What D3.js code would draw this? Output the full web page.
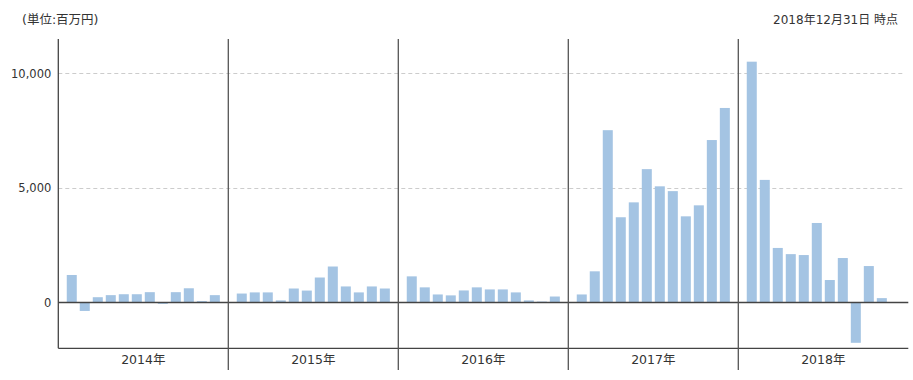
<!DOCTYPE html>
<html>
<head>
<meta charset="utf-8">
<script src="https://cdn.jsdelivr.net/npm/d3@7"></script>
<style>
  html, body { margin: 0; padding: 0; background: #fff; }
  svg text { font-family: "DejaVu Sans", "Noto Sans CJK JP", sans-serif; fill: #333; }
</style>
</head>
<body>
<svg id="chart" width="913" height="380"></svg>
<script>
const years = ["2014年", "2015年", "2016年", "2017年", "2018年"];
const months = ["1", "2", "3", "4", "5", "6", "7", "8", "9", "10", "11", "12"];
const values2014 = [1200, -370, 230, 320, 360, 360, 450, -60, 450, 620, 60, 320];
const values2015 = [390, 440, 440, 90, 610, 520, 1090, 1570, 700, 440, 700, 610];
const values2016 = [1140, 660, 350, 310, 525, 660, 570, 570, 440, 90, 40, 260];
const values2017 = [350, 1360, 7520, 3720, 4370, 5820, 5070, 4860, 3760, 4240, 7090, 8490];
const values2018 = [10510, 5350, 2380, 2110, 2070, 3470, 980, 1940, -1760, 1590, 190, null];
const yTicks = [0, 5000, 10000];
const unitLabel = "(単位:百万円)";
const dateLabel = "2018年12月31日 時点";

const series = [values2014, values2015, values2016, values2017, values2018];
const data = [];
years.forEach((yr, i) => {
  months.forEach((m, j) => {
    const v = series[i][j];
    if (v !== null && v !== undefined) data.push({ year: yr, month: m, value: v });
  });
});

const svg = d3.select("#chart");
const mLeft = 58.3, mRight = 908.3, mTop = 39, mBottom = 348.3;

const x0 = d3.scaleBand().domain(years).range([mLeft, mRight]).padding(0);
const x1 = d3.scaleBand().domain(months).range([0, x0.bandwidth()])
  .paddingInner(0.23).paddingOuter(0.65);
const y = d3.scaleLinear().domain([-2000, 11500]).range([mBottom, mTop]);

// grid lines
svg.append("g").selectAll("line")
  .data(yTicks.filter(t => t !== 0))
  .join("line")
  .attr("x1", mLeft).attr("x2", mRight - 6)
  .attr("y1", d => Math.round(y(d)) + 0.5).attr("y2", d => Math.round(y(d)) + 0.5)
  .attr("stroke", "#cccccc").attr("stroke-width", 1)
  .attr("stroke-dasharray", "4,3");

// bars
svg.append("g").selectAll("rect")
  .data(data)
  .join("rect")
  .attr("x", d => x0(d.year) + x1(d.month))
  .attr("width", x1.bandwidth())
  .attr("y", d => y(Math.max(0, d.value)))
  .attr("height", d => Math.abs(y(d.value) - y(0)))
  .attr("fill", "#a4c4e3");

// zero line
svg.append("line")
  .attr("x1", mLeft).attr("x2", mRight)
  .attr("y1", Math.round(y(0)) + 0.5).attr("y2", Math.round(y(0)) + 0.5)
  .attr("stroke", "#444").attr("stroke-width", 1.3);

// y axis
const yAxis = d3.axisLeft(y).tickValues(yTicks).tickSize(0).tickPadding(7)
  .tickFormat(d3.format(","));
const yg = svg.append("g").attr("transform", `translate(${mLeft},0)`).call(yAxis);
yg.select(".domain").remove();
yg.selectAll("text").style("font-size", "11.5px").attr("fill", "#333");

// left axis line
svg.append("line")
  .attr("x1", mLeft).attr("x2", mLeft)
  .attr("y1", mTop).attr("y2", mBottom)
  .attr("stroke", "#444").attr("stroke-width", 1.3);

// bottom axis line
svg.append("line")
  .attr("x1", mLeft).attr("x2", mRight)
  .attr("y1", mBottom).attr("y2", mBottom)
  .attr("stroke", "#444").attr("stroke-width", 1.3);

// year separators
svg.append("g").selectAll("line")
  .data(years.slice(1))
  .join("line")
  .attr("x1", d => x0(d)).attr("x2", d => x0(d))
  .attr("y1", mTop).attr("y2", 370)
  .attr("stroke", "#555").attr("stroke-width", 1.3);

// year labels
const xAxis = d3.axisBottom(x0).tickSize(0).tickPadding(7);
const xg = svg.append("g").attr("transform", `translate(0,${mBottom})`).call(xAxis);
xg.select(".domain").remove();
xg.selectAll("text").style("font-size", "12.5px").attr("fill", "#333");

// header texts
svg.append("text").attr("x", 22).attr("y", 24)
  .style("font-size", "12.5px").text(unitLabel);
svg.append("text").attr("x", 898).attr("y", 24).attr("text-anchor", "end")
  .style("font-size", "12px").text(dateLabel);
</script>
</body>
</html>
